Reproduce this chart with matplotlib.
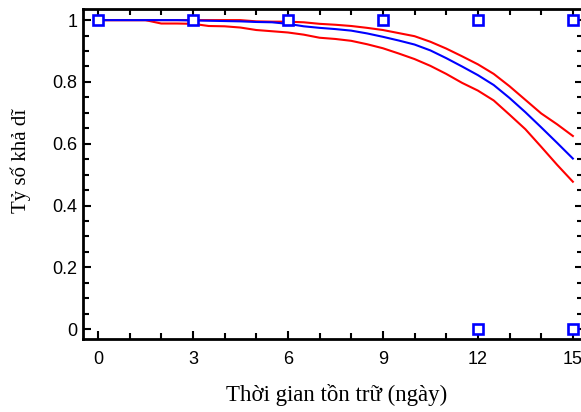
import numpy as np
import matplotlib.pyplot as plt
from matplotlib.ticker import MultipleLocator, FuncFormatter

# observed outcomes (1 = acceptable, 0 = not)
obs_days = [0, 3, 6, 9, 12, 15, 12, 15]
obs_vals = [1, 1, 1, 1, 1, 1, 0, 0]

# fitted probability and its bounds
days = [0, 0.5, 1, 1.5, 2, 2.5, 3, 3.5, 4, 4.5, 5, 5.5, 6, 6.5, 7, 7.5,
        8, 8.5, 9, 9.5, 10, 10.5, 11, 11.5, 12, 12.5, 13, 13.5, 14, 14.5, 15]
fit = [1.0, 1.0, 1.0, 1.0, 1.0, 1.0, 0.999, 0.998, 0.997, 0.996, 0.994,
       0.993, 0.988, 0.980, 0.975, 0.971, 0.966, 0.957, 0.946, 0.934, 0.921,
       0.902, 0.877, 0.850, 0.822, 0.790, 0.748, 0.702, 0.653, 0.603, 0.552]
upper = [1.0, 1.0, 1.0, 1.0, 1.0, 1.0, 1.0, 1.0, 1.0, 1.0, 0.996,
         0.995, 0.995, 0.993, 0.988, 0.985, 0.981, 0.975, 0.968, 0.958, 0.948,
         0.930, 0.908, 0.883, 0.857, 0.826, 0.786, 0.742, 0.698, 0.663, 0.625]
lower = [1.0, 1.0, 1.0, 1.0, 0.989, 0.989, 0.988, 0.981, 0.980, 0.976, 0.968,
         0.964, 0.960, 0.953, 0.943, 0.939, 0.933, 0.922, 0.909, 0.892, 0.874,
         0.852, 0.826, 0.797, 0.772, 0.740, 0.694, 0.647, 0.590, 0.532, 0.477]

fig = plt.figure(figsize=(5.81, 4.12), dpi=100)
ax = fig.add_axes([83/581, 1-339/412, 500/581, 330/412])

ax.plot(days, upper, color='red', lw=1.5)
ax.plot(days, lower, color='red', lw=1.5)
ax.plot(days, fit, color='blue', lw=1.5)
ax.plot(obs_days, obs_vals, ls='none', marker='s', ms=6.5, mfc='white',
        mec='blue', mew=1.9)

ax.set_xlim(-0.47, 15.32)
ax.set_ylim(-0.032, 1.036)
ax.xaxis.set_major_locator(MultipleLocator(3))
ax.xaxis.set_minor_locator(MultipleLocator(1))
ax.yaxis.set_major_locator(MultipleLocator(0.2))
ax.yaxis.set_minor_locator(MultipleLocator(0.05))
ax.yaxis.set_major_formatter(FuncFormatter(lambda v, p: '%g' % round(v, 2)))

ax.tick_params(which='both', direction='in', top=True, right=True, width=1.5)
ax.tick_params(which='major', length=6)
ax.tick_params(which='minor', length=4)
ax.tick_params(axis='x', pad=9)
ax.tick_params(axis='y', pad=4)
for lab in ax.get_xticklabels() + ax.get_yticklabels():
    lab.set_fontfamily('Liberation Sans')
    lab.set_fontsize(13)
for s in ax.spines.values():
    s.set_linewidth(2)

ax.set_xlabel('Thời gian tồn trữ (ngày)', family='Liberation Serif',
              fontsize=16.5, va='baseline')
ax.set_ylabel('Tỷ số khả dĩ', family='Liberation Serif', fontsize=15)
ax.xaxis.set_label_coords(0.508, -0.187)
ax.yaxis.set_label_coords(-0.103, 0.54)

fig.savefig('out.png', dpi=100)
